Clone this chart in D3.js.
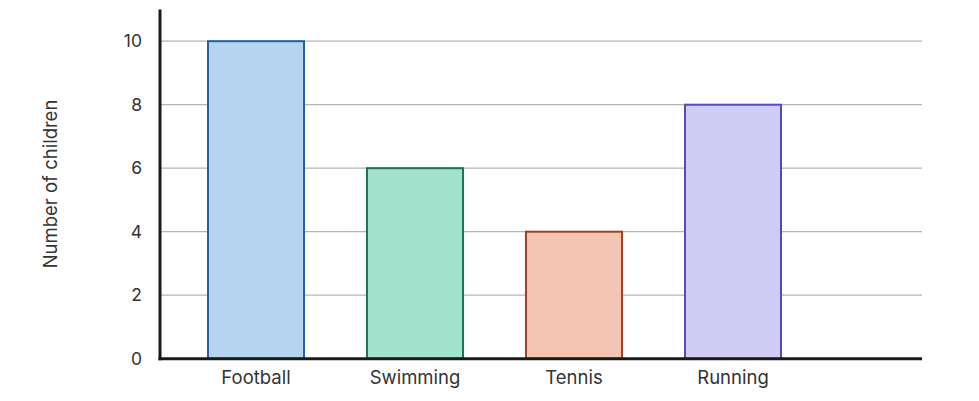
<!DOCTYPE html>
<html><head><meta charset="utf-8">
<script src="https://cdn.jsdelivr.net/npm/d3@7"></script>
<style>body{margin:0;background:#fff}text{font-family:Inter,"Noto Sans",sans-serif}</style>
</head><body>
<svg id="c" width="979" height="401"></svg>
<script>
const categories = ["Football", "Swimming", "Tennis", "Running"];
const values = [10, 6, 4, 8];
const fills = ["#b6d4f2", "#a3e2cd", "#f5c5b4", "#cfccf5"];
const strokes = ["#2360a8", "#1d7559", "#a3401f", "#5548c2"];
const yTicks = [0, 2, 4, 6, 8, 10];
const yTitle = "Number of children";

const svg = d3.select("#c");
const x0 = 160, x1 = 922, yBottom = 358.7, yTop = 9.45;
const y = d3.scaleLinear().domain([0, 11]).range([yBottom, yTop]);
const x = d3.scaleBand().domain(categories).range([176.5, 812.5]).paddingInner(0.396).paddingOuter(0.198);

svg.append("g").selectAll("line").data(yTicks.filter(d => d > 0)).join("line")
  .attr("x1", x0).attr("x2", x1)
  .attr("y1", d => y(d)).attr("y2", d => y(d))
  .attr("stroke", "#b5b5b5").attr("stroke-width", 1.2);

svg.append("g").selectAll("text").data(yTicks).join("text")
  .attr("x", 142).attr("y", d => y(d)).attr("dy", "0.35em")
  .attr("text-anchor", "end").attr("font-size", 17.5).attr("fill", "#333")
  .text(d => d);

svg.append("g").selectAll("rect").data(values).join("rect")
  .attr("x", (d, i) => x(categories[i]))
  .attr("y", d => y(d))
  .attr("width", x.bandwidth())
  .attr("height", d => y(0) - y(d))
  .attr("fill", (d, i) => fills[i])
  .attr("stroke", (d, i) => strokes[i])
  .attr("stroke-width", 2);

svg.append("line").attr("x1", x0).attr("x2", x0).attr("y1", yTop).attr("y2", yBottom + 1.5)
  .attr("stroke", "#1a1a1a").attr("stroke-width", 3);
svg.append("line").attr("x1", x0 - 1.5).attr("x2", x1).attr("y1", yBottom).attr("y2", yBottom)
  .attr("stroke", "#1a1a1a").attr("stroke-width", 3);

svg.append("g").selectAll("text").data(categories).join("text")
  .attr("x", d => x(d) + x.bandwidth() / 2).attr("y", 384)
  .attr("text-anchor", "middle").attr("font-size", 18.5).attr("fill", "#333")
  .text(d => d);

svg.append("text").attr("transform", "translate(57,184) rotate(-90)")
  .attr("text-anchor", "middle").attr("font-size", 18.5).attr("fill", "#333")
  .text(yTitle);
</script>
</body></html>
